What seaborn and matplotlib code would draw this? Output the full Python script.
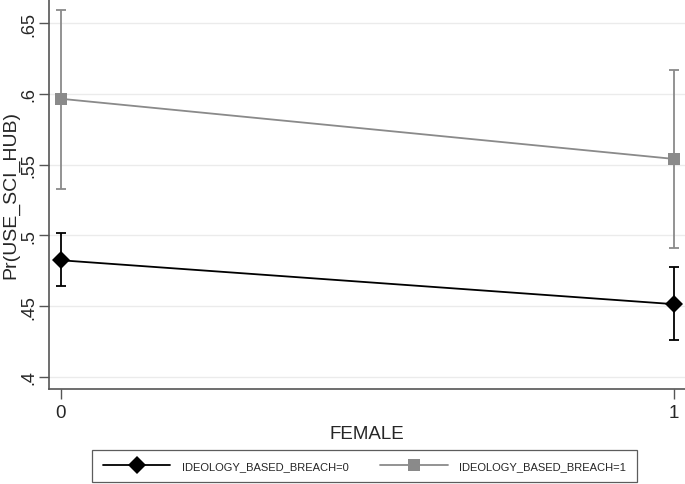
import numpy as np
import pandas as pd
import matplotlib
matplotlib.use("Agg")
import matplotlib.pyplot as plt
import seaborn as sns

# Margins
female = [0, 1]
breach0_mean = [0.4824, 0.4514]
breach0_lo = [0.4641, 0.4260]
breach0_hi = [0.5015, 0.4775]
breach1_mean = [0.5965, 0.5540]
breach1_lo = [0.5330, 0.4910]
breach1_hi = [0.6590, 0.6165]
series_labels = ["IDEOLOGY_BASED_BREACH=0", "IDEOLOGY_BASED_BREACH=1"]
y_ticks = [0.4, 0.45, 0.5, 0.55, 0.6, 0.65]
y_ticklabels = [".4", ".45", ".5", ".55", ".6", ".65"]

sns.set_style("white")
plt.rcParams["font.family"] = ["Liberation Sans", "DejaVu Sans"]

df = pd.DataFrame({
    "FEMALE": female * 2,
    "p": breach0_mean + breach1_mean,
    "group": [series_labels[0]] * 2 + [series_labels[1]] * 2,
})

fig = plt.figure(figsize=(6.85, 4.85), dpi=100)
ax = fig.add_axes([0.0715, 0.196, 0.9285, 0.804])

colors = {series_labels[0]: "black", series_labels[1]: "#8a8a8a"}
markers = {series_labels[0]: "D", series_labels[1]: "s"}

# error bars first so the markers sit on top
for lbl, mean, lo, hi in [(series_labels[0], breach0_mean, breach0_lo, breach0_hi),
                          (series_labels[1], breach1_mean, breach1_lo, breach1_hi)]:
    mean = np.array(mean)
    err = [mean - np.array(lo), np.array(hi) - mean]
    ax.errorbar(female, mean, yerr=err, fmt="none", ecolor=colors[lbl],
                elinewidth=1.3, capsize=3.4, capthick=1.3, zorder=2)

sns.lineplot(data=df, x="FEMALE", y="p", hue="group", style="group",
             palette=colors, markers=markers, dashes=False, markersize=8,
             markeredgewidth=0, linewidth=1.3, ax=ax, zorder=3)

# diamond reads a bit bigger than the square in the original
for ln in ax.lines:
    if ln.get_marker() == "D":
        ln.set_markersize(9)

ax.set_xlim(-0.0196, 1.018)
ax.set_ylim(0.3915, 0.667)
ax.set_xticks(female)
ax.set_xticklabels(["0", "1"], fontsize=13.5)
ax.set_yticks(y_ticks)
ax.set_yticklabels(y_ticklabels, fontsize=13, rotation=90, va="center")
ax.tick_params(axis="both", direction="out", length=7, width=1, color="#555555",
               left=True, bottom=True, pad=4)
ax.tick_params(axis="y", pad=1)
ax.yaxis.grid(True, color="#ebebeb", linewidth=1)
ax.set_axisbelow(True)

for s in ["top", "right"]:
    ax.spines[s].set_visible(False)
for s in ["left", "bottom"]:
    ax.spines[s].set_color("#555555")
    ax.spines[s].set_linewidth(1.2)

ax.set_xlabel("FEMALE", fontsize=13.5, labelpad=3)
ax.set_ylabel("Pr(USE_SCI_HUB)", fontsize=14)
ax.yaxis.set_label_coords(-0.047, 0.5)

handles, labels = ax.get_legend_handles_labels()
leg = ax.legend(handles, labels, loc="upper center", bbox_to_anchor=(0.496, -0.157),
                ncol=2, frameon=True, fancybox=False, edgecolor="#333333",
                fontsize=8, handlelength=6.1, columnspacing=2.9, borderpad=1.0,
                handletextpad=1.0, borderaxespad=0)
leg.get_frame().set_linewidth(0.9)

fig.savefig("out.png", dpi=100)
